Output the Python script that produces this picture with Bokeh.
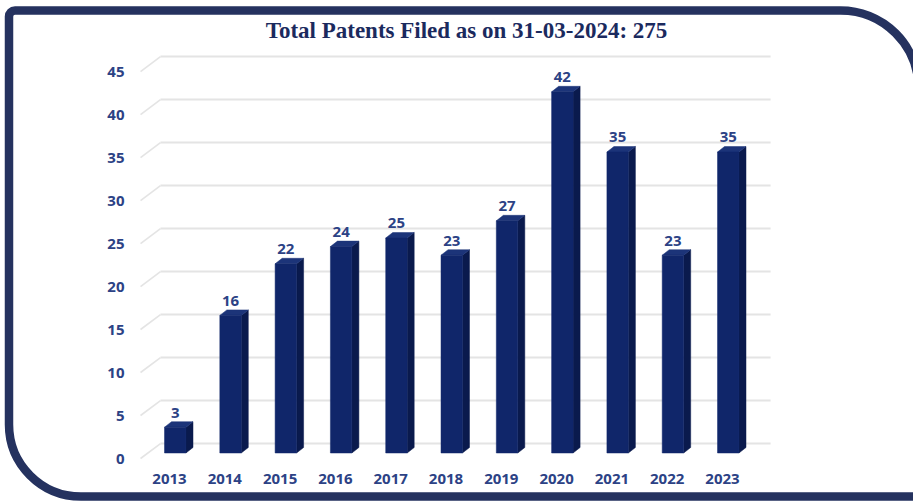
from bokeh.plotting import figure
from bokeh.models import (Range1d, LinearAxis, FixedTicker, BoxAnnotation, Label,
                          ColumnDataSource)
from bokeh.core.properties import value
from bokeh.embed import file_html
from bokeh.resources import INLINE

# ---- data ----
years = ["2013", "2014", "2015", "2016", "2017", "2018", "2019", "2020", "2021", "2022", "2023"]
patents = [3, 16, 22, 24, 25, 23, 27, 42, 35, 23, 35]
y_ticks = [0, 5, 10, 15, 20, 25, 30, 35, 40, 45]
title_text = "Total Patents Filed as on 31-03-2024: 275"

# ---- style constants ----
NAVY = "#25325f"
LABEL = "#2c4285"
FRONT = "#10266a"
SIDE = "#0a1a4d"
TOP = "#1c3479"
GRID = "#e4e4e4"

# 3D geometry (category units / value units)
F_LEFT = -0.09      # front face left offset from category centre
F_RIGHT = 0.298     # front face right offset
DX = 0.127          # bar depth in x
DY = 0.64           # bar depth in y
G_FRONT = -0.64     # grid floor-front offset
G_BACK = 1.10       # grid back-wall offset
LAB_SHIFT = 0.75    # y tick labels sit on the front plane
LABEL_GAP = 1.05    # value label lift above the bar top
WALL_X = -0.524     # front edge of the left wall (where the y labels hang)

x_start, x_end = -3.056, 13.454
y_start, y_end = -5.64, 52.62

p = figure(width=913, height=501, output_backend="svg", toolbar_location=None,
           x_range=Range1d(x_start, x_end), y_range=Range1d(y_start, y_end),
           min_border_left=0, min_border_right=0, min_border_top=0, min_border_bottom=0,
           x_axis_location=None, y_axis_location=None, outline_line_color=None)
p.grid.visible = False
p.background_fill_color = "white"
p.border_fill_color = "white"

# ---- gridlines (3D wall + floor diagonals) ----
n = len(years)
g_back_x0 = WALL_X + 0.361
g_back_x1 = (n - 1) + 0.87
m = len(y_ticks)
p.segment(x0=[WALL_X] * m, y0=[t + G_FRONT for t in y_ticks],
          x1=[g_back_x0] * m, y1=[t + G_BACK for t in y_ticks],
          line_color=GRID, line_width=1.6)
p.segment(x0=[g_back_x0] * m, y0=[t + G_BACK for t in y_ticks],
          x1=[g_back_x1] * m, y1=[t + G_BACK for t in y_ticks],
          line_color=GRID, line_width=2)

# ---- 3D bars ----
idx = list(range(n))
lefts = [i + F_LEFT for i in idx]
rights = [i + F_RIGHT for i in idx]
side_xs = [[r, r + DX, r + DX, r] for r in rights]
side_ys = [[0, DY, v + DY, v] for v in patents]
top_xs = [[l, r, r + DX, l + DX] for l, r in zip(lefts, rights)]
top_ys = [[v, v, v + DY, v + DY] for v in patents]

p.patches(xs=side_xs, ys=side_ys, fill_color=SIDE, line_color=SIDE, line_width=0.5)
p.patches(xs=top_xs, ys=top_ys, fill_color=TOP, line_color=TOP, line_width=0.5)
p.quad(left=lefts, right=rights, bottom=[0] * n, top=patents,
       fill_color=FRONT, line_color=FRONT, line_width=0.5)

# ---- value labels ----
src = ColumnDataSource(dict(x=[i + (F_LEFT + F_RIGHT) / 2 for i in idx],
                            y=[v + DY + LABEL_GAP for v in patents],
                            t=[str(v) for v in patents]))
p.text(x="x", y="y", text="t", source=src, text_align="center", text_baseline="alphabetic",
       text_font=value("Open Sans"), text_font_style="bold",
       text_font_size="15px", text_color=LABEL)

# ---- axes (fixed inside the full-canvas frame) ----
xa = LinearAxis(ticker=FixedTicker(ticks=idx), fixed_location=0)
xa.major_label_overrides = {i: y for i, y in zip(idx, years)}
xa.axis_line_color = None
xa.major_tick_line_color = None
xa.minor_tick_line_color = None
xa.major_tick_out = 0
xa.major_tick_in = 0
xa.major_label_standoff = 21
xa.major_label_text_font = "Open Sans"
xa.major_label_text_font_style = "bold"
xa.major_label_text_font_size = "15px"
xa.major_label_text_color = LABEL
p.add_layout(xa, "below")

p.extra_y_ranges = {"lab": Range1d(y_start + LAB_SHIFT, y_end + LAB_SHIFT)}
ya = LinearAxis(y_range_name="lab", ticker=FixedTicker(ticks=y_ticks), fixed_location=WALL_X)
ya.axis_line_color = None
ya.major_tick_line_color = None
ya.minor_tick_line_color = None
ya.major_tick_out = 0
ya.major_tick_in = 0
ya.major_label_standoff = 16
ya.major_label_text_font = "Open Sans"
ya.major_label_text_font_style = "bold"
ya.major_label_text_font_size = "15px"
ya.major_label_text_color = LABEL
p.add_layout(ya, "left")

# ---- title ----
p.add_layout(Label(x=466, y=30, x_units="canvas", y_units="canvas", text=title_text,
                   text_align="center", text_baseline="middle",
                   text_font="Liberation Serif", text_font_style="bold",
                   text_font_size="23px", text_color="#1b2a5e"))

# ---- rounded frame border ----
p.add_layout(BoxAnnotation(left=8.5, right=918, top=10, bottom=496,
                           left_units="canvas", right_units="canvas",
                           top_units="canvas", bottom_units="canvas",
                           fill_alpha=0, line_color=NAVY, line_alpha=1, line_width=8.5,
                           border_radius=(6, 78, 0, 72)))

open("out.html", "w").write(file_html(p, INLINE))
